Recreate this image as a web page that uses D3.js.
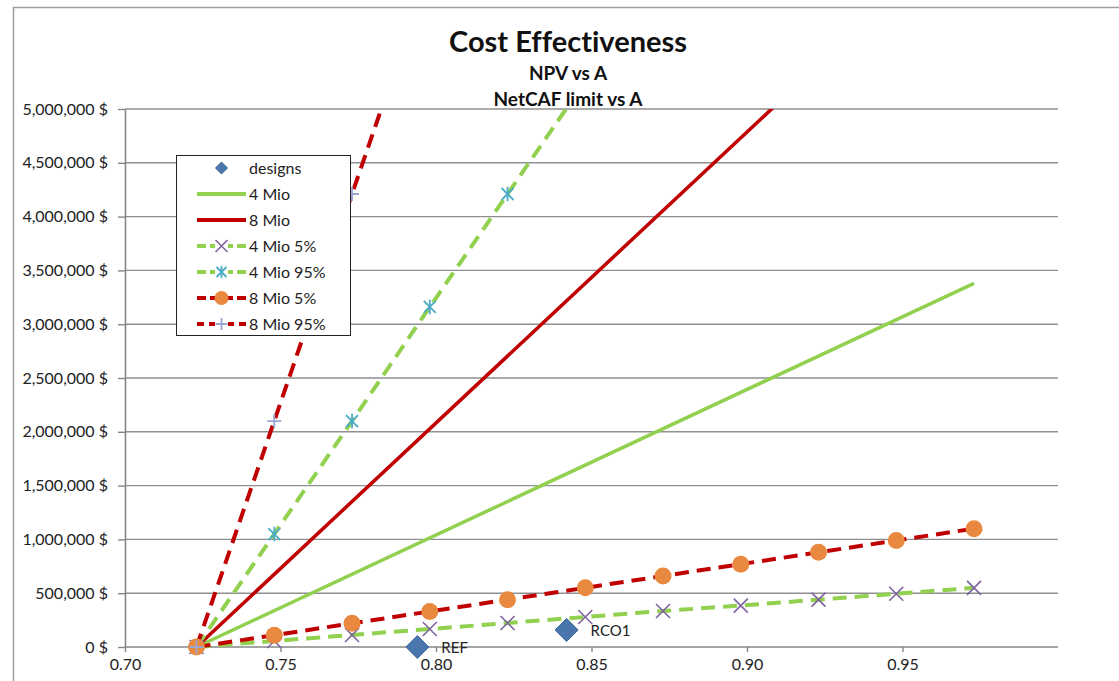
<!DOCTYPE html>
<html><head><meta charset="utf-8">
<script src="https://cdn.jsdelivr.net/npm/d3@7"></script>
<style>
body{margin:0;background:#fff;}
svg{display:block;font-family:Lato,'Open Sans',sans-serif;font-variant-ligatures:none;font-feature-settings:"liga" 0;}
</style>
</head><body>
<svg id="chart" width="1119" height="681"></svg>
<script>
// ---------------- data ----------------
const xValues = [0.723, 0.748, 0.773, 0.798, 0.823, 0.848, 0.873, 0.898, 0.923, 0.948, 0.973];
const mio4_5  = [0, 56000, 112000, 167000, 223000, 279000, 335000, 385000, 440000, 495000, 550000];
const mio4_95 = [0, 1050000, 2100000, 3160000, 4210000, 5260000, 6310000, 7360000, 8420000, 9470000, 10520000];
const mio8_5  = [0, 110000, 220000, 330000, 440000, 550000, 660000, 770000, 880000, 990000, 1100000];
const mio8_95 = [0, 2100000, 4210000, 6310000];
const mio4X = [0.723, 0.973];
const mio4Y = [0, 3380000];
const mio8X = [0.723, 0.973];
const mio8Y = [0, 6760000];
const designNames = ["REF", "RCO1"];
const designX = [0.794, 0.842];
const designY = [0, 158000];
const xTicks = [0.70, 0.75, 0.80, 0.85, 0.90, 0.95];
const yTicks = [0, 500000, 1000000, 1500000, 2000000, 2500000, 3000000, 3500000, 4000000, 4500000, 5000000];
const legendLabels = ["designs", "4 Mio", "8 Mio", "4 Mio 5%", "4 Mio 95%", "8 Mio 5%", "8 Mio 95%"];

// ---------------- setup ----------------
const svg = d3.select("#chart");
const pL = 125, pR = 1058, pT = 109, pB = 647;
const x = d3.scaleLinear().domain([0.70, 1.00]).range([pL, pR]);
const y = d3.scaleLinear().domain([0, 5000000]).range([pB, pT]);

const GREEN = "#92D050", RED = "#C00000", BLUE = "#4A76AE", PURPLE = "#8064A2",
      TEAL = "#4BACC6", ORANGE = "#E9893F", LAV = "#9AA6D2";
const DASH = "14,8";

// outer chart border
svg.append("rect").attr("x", 13.5).attr("y", 7.5).attr("width", 1300).attr("height", 900)
  .attr("fill", "none").attr("stroke", "#a0a0a0").attr("stroke-width", 1.5);

// titles
svg.append("text").attr("x", 568).attr("y", 52).attr("text-anchor", "middle")
  .attr("font-size", 29).attr("font-weight", "bold").attr("fill", "#111").text("Cost Effectiveness");
svg.append("text").attr("x", 568).attr("y", 80).attr("text-anchor", "middle")
  .attr("font-size", 19).attr("font-weight", "bold").attr("fill", "#111").text("NPV vs A");
svg.append("text").attr("x", 568).attr("y", 106).attr("text-anchor", "middle")
  .attr("font-size", 19).attr("font-weight", "bold").attr("fill", "#111").text("NetCAF limit vs A");

// gridlines
svg.append("g").selectAll("line").data(yTicks.filter(d => d > 0)).join("line")
  .attr("x1", pL).attr("x2", pR).attr("y1", d => y(d)).attr("y2", d => y(d))
  .attr("stroke", "#8f8f8f").attr("stroke-width", 1.4);

// axes
const yAxis = svg.append("g").attr("transform", `translate(${pL},0)`)
  .call(d3.axisLeft(y).tickValues(yTicks).tickSize(7).tickSizeOuter(0).tickPadding(10)
    .tickFormat(d => d3.format(",")(d) + " $"));
const xAxis = svg.append("g").attr("transform", `translate(0,${pB})`)
  .call(d3.axisBottom(x).tickValues(xTicks).tickSize(5).tickSizeOuter(0).tickPadding(7)
    .tickFormat(d3.format(".2f")));
[yAxis, xAxis].forEach(g => {
  g.selectAll("path.domain").attr("stroke", "#868686").attr("stroke-width", 1.6);
  g.selectAll(".tick line").attr("stroke", "#868686").attr("stroke-width", 1.4);
  g.selectAll(".tick text").attr("font-size", 16).attr("fill", "#222")
    .attr("font-family", "Lato,'Open Sans',sans-serif");
});
xAxis.select("path.domain").attr("d", `M${pL},0H${pR}`);

// clip
svg.append("clipPath").attr("id", "plotclip").append("rect")
  .attr("x", pL).attr("y", pT).attr("width", pR - pL).attr("height", pB - pT + 10);

const line = d3.line().x(d => x(d[0])).y(d => y(d[1]));
const zip = (xs, ys) => ys.map((v, i) => [xs[i], v]);

// marker shapes
function marker(g, type, cx, cy, s) {
  if (type === "diamond") {
    g.append("path").attr("d", `M${cx},${cy - s}L${cx + s},${cy}L${cx},${cy + s}L${cx - s},${cy}Z`)
      .attr("fill", BLUE).attr("stroke", "#3d6598").attr("stroke-width", 1);
  } else if (type === "x") {
    g.append("path").attr("d", `M${cx - s},${cy - s}L${cx + s},${cy + s}M${cx - s},${cy + s}L${cx + s},${cy - s}`)
      .attr("stroke", PURPLE).attr("stroke-width", 1.6).attr("fill", "none");
  } else if (type === "star") {
    g.append("path").attr("d", `M${cx - s},${cy - s}L${cx + s},${cy + s}M${cx - s},${cy + s}L${cx + s},${cy - s}M${cx},${cy - s * 1.2}L${cx},${cy + s * 1.2}`)
      .attr("stroke", TEAL).attr("stroke-width", 1.8).attr("fill", "none");
  } else if (type === "circle") {
    g.append("circle").attr("cx", cx).attr("cy", cy).attr("r", s).attr("fill", ORANGE);
  } else if (type === "plus") {
    g.append("path").attr("d", `M${cx - s},${cy}L${cx + s},${cy}M${cx},${cy - s}L${cx},${cy + s}`)
      .attr("stroke", LAV).attr("stroke-width", 1.8).attr("fill", "none");
  }
}

const plot = svg.append("g");
const lines = plot.append("g").attr("clip-path", "url(#plotclip)");

function drawSeries(xs, ys, color, dashed, mtype, msize) {
  lines.append("path").datum(zip(xs, ys)).attr("d", line)
    .attr("fill", "none").attr("stroke", color).attr("stroke-width", dashed ? 4 : 3.5)
    .attr("stroke-dasharray", dashed ? DASH : null);
  if (mtype) {
    const mg = plot.append("g");
    zip(xs, ys).filter(d => d[1] <= 5000000).forEach(d => marker(mg, mtype, x(d[0]), y(d[1]), msize));
  }
}

// designs
const dg = plot.append("g");
designX.forEach((dx, i) => {
  marker(dg, "diamond", x(dx), y(designY[i]), 11.5);
  dg.append("text").attr("x", x(dx) + 24).attr("y", y(designY[i]) + 6)
    .attr("font-size", 15).attr("fill", "#222").text(designNames[i]);
});

drawSeries(mio4X, mio4Y, GREEN, false, null);
drawSeries(mio8X, mio8Y, RED, false, null);
drawSeries(xValues, mio4_5, GREEN, true, "x", 7);
drawSeries(xValues, mio4_95, GREEN, true, "star", 6);
drawSeries(xValues, mio8_5, RED, true, "circle", 8.5);
drawSeries(xValues.slice(0, mio8_95.length), mio8_95, RED, true, "plus", 7);

// legend
const lg = svg.append("g");
lg.append("rect").attr("x", 176.5).attr("y", 155.5).attr("width", 174).attr("height", 180)
  .attr("fill", "#fff").attr("stroke", "#222").attr("stroke-width", 1);
const legendSpec = [
  {c: null, d: false, m: "diamond", s: 6},
  {c: GREEN, d: false, m: null},
  {c: RED, d: false, m: null},
  {c: GREEN, d: true, m: "x", s: 6},
  {c: GREEN, d: true, m: "star", s: 5},
  {c: RED, d: true, m: "circle", s: 7},
  {c: RED, d: true, m: "plus", s: 6}
];
legendLabels.forEach((lab, i) => {
  const cy = 168 + i * 26;
  const sp = legendSpec[i];
  if (sp.c) {
    if (sp.d) {
      const da = sp.m === "plus" ? "7,5" : "9,4";
      lg.append("line").attr("x1", 197).attr("x2", 215).attr("y1", cy).attr("y2", cy)
        .attr("stroke", sp.c).attr("stroke-width", 4).attr("stroke-dasharray", da);
      lg.append("line").attr("x1", 246).attr("x2", 228).attr("y1", cy).attr("y2", cy)
        .attr("stroke", sp.c).attr("stroke-width", 4).attr("stroke-dasharray", da);
    } else {
      lg.append("line").attr("x1", 197).attr("x2", 246).attr("y1", cy).attr("y2", cy)
        .attr("stroke", sp.c).attr("stroke-width", 4);
    }
  }
  if (sp.m) marker(lg, sp.m, 221.5, cy, sp.s);
  lg.append("text").attr("x", 249).attr("y", cy + 5.5).attr("font-size", 16).attr("fill", "#222").text(lab);
});
</script>
</body></html>
